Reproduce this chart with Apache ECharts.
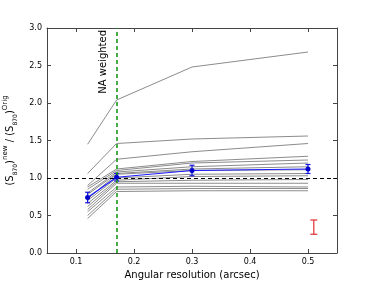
<!DOCTYPE html>
<html><head><meta charset="utf-8">
<script src="https://cdn.jsdelivr.net/npm/echarts@6/dist/echarts.min.js"></script>
<style>html,body{margin:0;padding:0;background:#fff}#c{width:374px;height:282px}</style>
</head><body><div id="c"></div>
<script>
const resolutions = [0.12, 0.17, 0.3, 0.5];
const grayLines = [
  [1.45, 2.04, 2.48, 2.68],
  [1.06, 1.46, 1.52, 1.56],
  [0.90, 1.25, 1.35, 1.46],
  [0.88, 1.12, 1.22, 1.29],
  [0.85, 1.10, 1.20, 1.24],
  [0.80, 1.08, 1.15, 1.20],
  [0.78, 1.06, 1.12, 1.15],
  [0.72, 1.05, 1.10, 1.11],
  [0.70, 1.00, 1.05, 1.06],
  [0.66, 0.97, 1.02, 1.03],
  [0.62, 0.95, 0.97, 0.98],
  [0.58, 0.93, 0.93, 0.93],
  [0.55, 0.88, 0.89, 0.88],
  [0.50, 0.85, 0.86, 0.86],
  [0.46, 0.82, 0.83, 0.83]
];
const meanValues = [0.74, 1.01, 1.10, 1.12];
const meanErrors = [0.07, 0.05, 0.07, 0.06];
const redBar = {x: 0.51, low: 0.25, high: 0.44};
const naWeightedX = 0.17;
const refLevel = 1.0;
const xTicks = [0.1, 0.2, 0.3, 0.4, 0.5];

const chart = echarts.init(document.getElementById('c'));
const fontFam = 'DejaVu Sans';
const axisCol = '#444';

function errRender(color, capW) {
  return function (params, api) {
    const x = api.value(0), lo = api.value(1), hi = api.value(2);
    const p1 = api.coord([x, lo]), p2 = api.coord([x, hi]);
    const st = {stroke: color, lineWidth: 1.2};
    return {type: 'group', children: [
      {type: 'line', shape: {x1: p1[0], y1: p1[1], x2: p2[0], y2: p2[1]}, style: st},
      {type: 'line', shape: {x1: p1[0] - capW, y1: p1[1], x2: p1[0] + capW, y2: p1[1]}, style: st},
      {type: 'line', shape: {x1: p2[0] - capW, y1: p2[1], x2: p2[0] + capW, y2: p2[1]}, style: st}
    ]};
  };
}

const series = [];
grayLines.forEach((vals, i) => {
  series.push({
    type: 'line', xAxisIndex: 0, yAxisIndex: 0, silent: true,
    data: resolutions.map((r, j) => [r, vals[j]]),
    symbol: 'none', lineStyle: {color: '#8c8c8c', width: 1}, z: 2
  });
});
series.push({
  type: 'line', data: [], symbol: 'none', z: 1,
  markLine: {
    silent: true, symbol: 'none',
    data: [
      {yAxis: refLevel, lineStyle: {color: '#000', type: [4, 3], width: 1}, label: {show: false}},
      {xAxis: naWeightedX, lineStyle: {color: '#1a9a1a', type: [4, 3], width: 1.6},
       label: {show: true, position: 'insideEndTop', formatter: 'NA weighted', color: '#000',
               fontSize: 10, fontFamily: fontFam, distance: [2, 8]}}
    ]
  }
});
series.push({
  type: 'custom', z: 4,
  renderItem: errRender('#1515e0', 2.5),
  data: resolutions.map((r, j) => [r, meanValues[j] - meanErrors[j], meanValues[j] + meanErrors[j]])
});
series.push({
  type: 'line', z: 5,
  data: resolutions.map((r, j) => [r, meanValues[j]]),
  symbol: 'circle', symbolSize: 5,
  itemStyle: {color: '#0000cc'}, lineStyle: {color: '#1a1aff', width: 1.2}
});
series.push({
  type: 'custom', z: 4,
  renderItem: errRender('#e03030', 3.5),
  data: [[redBar.x, redBar.low, redBar.high]]
});

const xBase = {
  type: 'value', min: 0.05, max: 0.55,
  splitLine: {show: false},
  axisLine: {show: true, onZero: false, lineStyle: {color: axisCol, width: 1}},
  axisTick: {show: true, inside: true, length: 4, customValues: xTicks, lineStyle: {color: axisCol}},
};
const yBase = {
  type: 'value', min: 0, max: 3, interval: 0.5,
  splitLine: {show: false},
  axisLine: {show: true, onZero: false, lineStyle: {color: axisCol, width: 1}},
  axisTick: {show: true, inside: true, length: 4, lineStyle: {color: axisCol}},
};

chart.setOption({
  animation: false,
  backgroundColor: '#fff',
  grid: {left: 47, right: 37, top: 28, bottom: 29, outerBoundsMode: 'none', containLabel: false},
  xAxis: [
    Object.assign({}, xBase, {
      position: 'bottom',
      axisLabel: {customValues: xTicks, formatter: v => v.toFixed(1), fontSize: 8, color: '#000', fontFamily: fontFam, margin: 5},
      name: 'Angular resolution (arcsec)', nameLocation: 'middle', nameGap: 17,
      nameTextStyle: {fontSize: 10, color: '#000', fontFamily: fontFam}
    }),
    Object.assign({}, xBase, {position: 'top', axisLabel: {show: false}})
  ],
  yAxis: [
    Object.assign({}, yBase, {
      position: 'left',
      axisLabel: {formatter: v => v.toFixed(1), fontSize: 8, color: '#000', fontFamily: fontFam, margin: 5},
      name: '(S{sub|870}){sup|new} / (S{sub|870}){sup|Orig}',
      nameLocation: 'middle', nameGap: 29, nameRotate: 90,
      nameTextStyle: {
        fontSize: 10, color: '#000', fontFamily: fontFam, lineHeight: 16,
        rich: {
          sub: {fontSize: 6, verticalAlign: 'bottom', fontFamily: fontFam, color: '#000', lineHeight: 16},
          sup: {fontSize: 7, verticalAlign: 'top', fontFamily: fontFam, color: '#000', lineHeight: 16}
        }
      }
    }),
    Object.assign({}, yBase, {position: 'right', axisLabel: {show: false}})
  ],
  series: series
});
</script></body></html>
